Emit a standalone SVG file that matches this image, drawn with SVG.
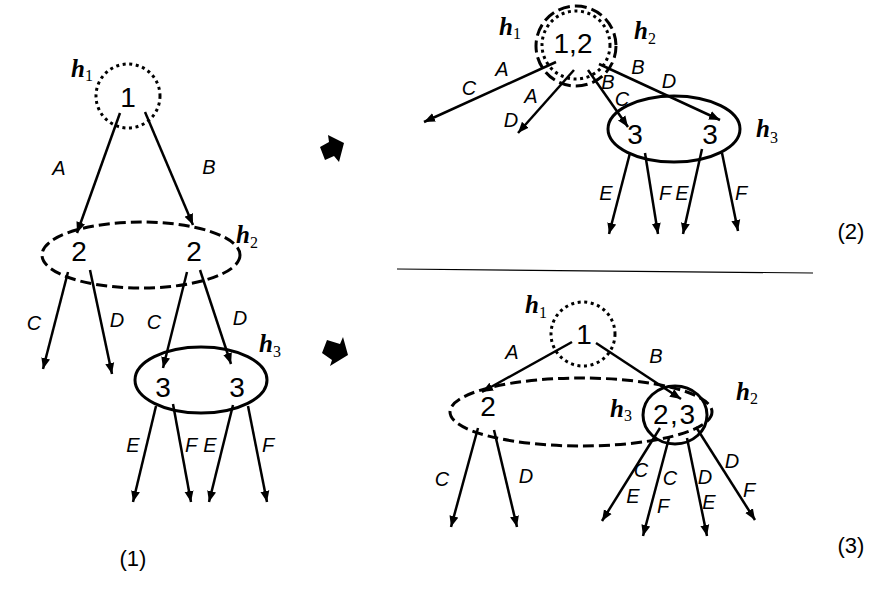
<svg xmlns="http://www.w3.org/2000/svg" width="894" height="597" viewBox="0 0 894 597">
<style>
.dot{fill:none;stroke:#000;stroke-width:3;stroke-dasharray:3 3.6}
.dash{fill:none;stroke:#000;stroke-width:3;stroke-dasharray:11 5}
.solid{fill:none;stroke:#000;stroke-width:3}
.num{font-family:"Liberation Sans",Arial,sans-serif;font-size:28px;text-anchor:middle;fill:#000}
.lbl{font-family:"Liberation Sans",Arial,sans-serif;font-size:20px;font-style:italic;text-anchor:middle;fill:#000}
.h{font-family:"Liberation Serif","Times New Roman",serif;font-size:25px;font-weight:bold;font-style:italic;fill:#000}
.sub{font-size:16px;font-weight:normal;font-style:normal}
.cap{font-family:"Liberation Sans",Arial,sans-serif;font-size:22px;text-anchor:middle;fill:#000}
.edge line{stroke:#000;stroke-width:2.5;marker-end:url(#ah)}
</style>
<defs>
<marker id="ah" markerUnits="userSpaceOnUse" markerWidth="12" markerHeight="10" refX="11" refY="5" orient="auto">
<path d="M0,0.5 L11,5 L0,9.5 Z" fill="#000"/>
</marker>
</defs>
<rect width="894" height="597" fill="#fff"/>

<!-- Panel 1 nodes -->
<g id="p1-h1">
<circle class="dot" cx="128" cy="96" r="32"/>
<text class="num" x="128" y="107">1</text>
<text class="h" x="71" y="77">h<tspan class="sub" dy="4">1</tspan></text>
</g>
<g id="p1-h2">
<ellipse class="dash" cx="141" cy="255" rx="99" ry="33"/>
<text class="num" x="79" y="261">2</text>
<text class="num" x="194" y="261">2</text>
<text class="h" x="236" y="243">h<tspan class="sub" dy="5">2</tspan></text>
</g>
<g id="p1-h3">
<ellipse class="solid" cx="201" cy="380" rx="66" ry="33"/>
<text class="num" x="163" y="397">3</text>
<text class="num" x="237" y="397">3</text>
<text class="h" x="259" y="352">h<tspan class="sub" dy="5">3</tspan></text>
</g>

<!-- Panel 2 nodes -->
<g id="p2-h12">
<circle class="dash" cx="576" cy="46" r="40" style="stroke-dasharray:12 5"/>
<circle class="dot" cx="576" cy="45" r="34"/>
<text class="num" x="573" y="53">1,2</text>
<text class="h" x="499" y="35">h<tspan class="sub" dy="4">1</tspan></text>
<text class="h" x="634" y="39">h<tspan class="sub" dy="5">2</tspan></text>
</g>
<g id="p2-h3">
<ellipse class="solid" cx="674" cy="129" rx="66" ry="33"/>
<text class="num" x="635" y="144">3</text>
<text class="num" x="710" y="144">3</text>
<text class="h" x="756" y="137">h<tspan class="sub" dy="6">3</tspan></text>
</g>

<!-- Panel 3 nodes -->
<g id="p3-h1">
<circle class="dot" cx="583" cy="334" r="32"/>
<text class="num" x="584" y="344">1</text>
<text class="h" x="525" y="313">h<tspan class="sub" dy="5">1</tspan></text>
</g>
<g id="p3-h2">
<ellipse class="dash" cx="581" cy="412" rx="131" ry="34"/>
<text class="num" x="488" y="416">2</text>
<text class="h" x="736" y="400">h<tspan class="sub" dy="4">2</tspan></text>
</g>
<g id="p3-h3">
<ellipse class="solid" cx="675" cy="415" rx="32" ry="29"/>
<text class="num" x="674" y="424" textLength="42">2,3</text>
<text class="h" x="610" y="417">h<tspan class="sub" dy="4">3</tspan></text>
</g>

<!-- Connectors -->
<g id="connectors" class="edge">
<line x1="120" y1="113" x2="77" y2="233"/>
<line x1="145" y1="112" x2="193" y2="225"/>
<line x1="68" y1="272" x2="43" y2="369"/>
<line x1="90" y1="270" x2="112" y2="374"/>
<line x1="187" y1="272" x2="163" y2="368"/>
<line x1="200" y1="270" x2="231" y2="364"/>
<line x1="156" y1="406" x2="133" y2="502"/>
<line x1="173" y1="404" x2="191" y2="502"/>
<line x1="233" y1="405" x2="209" y2="502"/>
<line x1="248" y1="406" x2="267" y2="502"/>

<line x1="556" y1="62" x2="424" y2="122"/>
<line x1="574" y1="70" x2="518" y2="133"/>
<line x1="588" y1="70" x2="628" y2="127"/>
<line x1="599" y1="64" x2="720" y2="120"/>
<line x1="630" y1="153" x2="609" y2="234"/>
<line x1="645" y1="153" x2="658" y2="234"/>
<line x1="702" y1="149" x2="683" y2="234"/>
<line x1="722" y1="153" x2="738" y2="231"/>

<line x1="572" y1="342" x2="482" y2="392"/>
<line x1="596" y1="343" x2="681" y2="399"/>
<line x1="478" y1="428" x2="451" y2="527"/>
<line x1="494" y1="430" x2="517" y2="527"/>
<line x1="660" y1="428" x2="602" y2="521"/>
<line x1="669" y1="438" x2="643" y2="536"/>
<line x1="687" y1="438" x2="707" y2="536"/>
<line x1="696" y1="427" x2="755" y2="520"/>
</g>

<!-- Connector labels -->
<g id="edge-labels">
<text class="lbl" x="59" y="175">A</text>
<text class="lbl" x="209" y="174">B</text>
<text class="lbl" x="34" y="330">C</text>
<text class="lbl" x="117" y="327">D</text>
<text class="lbl" x="154" y="329">C</text>
<text class="lbl" x="240" y="325">D</text>
<text class="lbl" x="133" y="452">E</text>
<text class="lbl" x="191" y="452">F</text>
<text class="lbl" x="210" y="452">E</text>
<text class="lbl" x="268" y="452">F</text>

<text class="lbl" x="502" y="76">A</text>
<text class="lbl" x="469" y="95">C</text>
<text class="lbl" x="531" y="103">A</text>
<text class="lbl" x="511" y="127">D</text>
<text class="lbl" x="608" y="89">B</text>
<text class="lbl" x="622" y="106">C</text>
<text class="lbl" x="638" y="74">B</text>
<text class="lbl" x="669" y="88">D</text>
<text class="lbl" x="606" y="200">E</text>
<text class="lbl" x="665" y="200">F</text>
<text class="lbl" x="682" y="200">E</text>
<text class="lbl" x="741" y="200">F</text>

<text class="lbl" x="512" y="359">A</text>
<text class="lbl" x="656" y="363">B</text>
<text class="lbl" x="442" y="486">C</text>
<text class="lbl" x="526" y="483">D</text>
<text class="lbl" x="641" y="477">C</text>
<text class="lbl" x="633" y="503">E</text>
<text class="lbl" x="670" y="485">C</text>
<text class="lbl" x="663" y="513">F</text>
<text class="lbl" x="705" y="484">D</text>
<text class="lbl" x="709" y="509">E</text>
<text class="lbl" x="732" y="468">D</text>
<text class="lbl" x="749" y="497">F</text>
</g>

<!-- Block arrows -->
<polygon points="320,147 329,142 328,135 344,143 339,162 334,156 325,160" fill="#000"/>
<polygon points="327,340 340,344 343,337 348,355 330,366 332,360 322,353" fill="#000"/>

<!-- Separator -->
<line x1="397" y1="269" x2="813" y2="273" stroke="#000" stroke-width="1.2"/>

<!-- Panel captions -->
<text class="cap" x="133" y="566">(1)</text>
<text class="cap" x="851" y="239">(2)</text>
<text class="cap" x="851" y="553">(3)</text>
</svg>
